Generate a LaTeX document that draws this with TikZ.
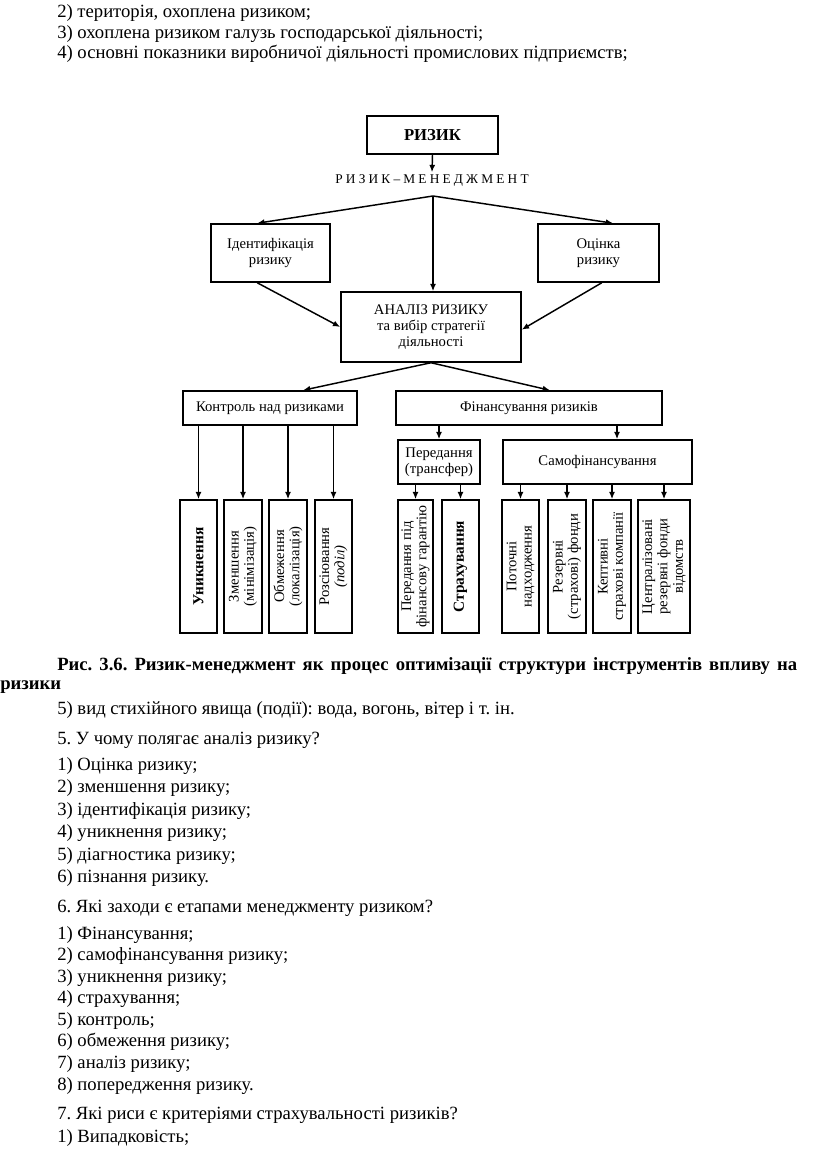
\documentclass[tikz,border=0pt]{standalone}
\usepackage{fontspec}
\setmainfont{Liberation Serif}
\usetikzlibrary{arrows.meta,calc}
\begin{document}
\frenchspacing
\begin{tikzpicture}[x=0.75pt,y=-0.75pt,
  every node/.style={inner sep=0pt},
  box/.style={draw, line width=1.1pt, align=center, font=\fontsize{11}{12}\selectfont},
  leaf/.style={draw, line width=1.1pt, rotate=90, align=center, minimum width=99.75pt, font=\fontsize{11}{11.5}\selectfont},
  arr/.style={line width=1.1pt, -{Latex[length=5.5pt,width=4.5pt]}},
  ln/.style={anchor=base west, font=\fontsize{14}{16}\selectfont\frenchspacing},
  lnb/.style={anchor=base west, font=\fontsize{14}{16}\selectfont\bfseries\frenchspacing}]
\useasboundingbox (0,0) rectangle (816,1155);
\fill[white] (0,0) rectangle (816,1155);

% body text top
\node[ln] (t1) at (57,18) {2) територія, охоплена ризиком;};
\node[ln] (t2) at (57,38.5) {3) охоплена ризиком галузь господарської діяльності;};
\node[ln] (t3) at (57,58.5) {4) основні показники виробничої діяльності промислових підприємств;};

% diagram
\node[box, minimum width=98.25pt, minimum height=28.5pt, font=\fontsize{12.5}{14}\selectfont\bfseries] (riz) at (432.5,135) {РИЗИК};
\node[font=\fontsize{10}{11}\selectfont, inner sep=2pt] (rm) at (432,181) {\makebox[145pt]{Р\hfill И\hfill З\hfill И\hfill К\hfill –\hfill М\hfill Е\hfill Н\hfill Е\hfill Д\hfill Ж\hfill М\hfill Е\hfill Н\hfill Т}};
\coordinate (fork) at (433,196);
\node[box, minimum width=89.25pt, minimum height=43.5pt] (ident) at (270.5,253) {Ідентифікація\\ризику};
\node[box, minimum width=90.75pt, minimum height=43.5pt] (ocin) at (598.5,253) {Оцінка\\ризику};
\node[box, minimum width=135pt, minimum height=52.5pt] (anal) at (431,327) {АНАЛІЗ РИЗИКУ\\та вибір стратегії\\діяльності};
\node[box, minimum width=130.5pt, minimum height=25.5pt] (kontr) at (270,408) {Контроль над ризиками};
\node[box, minimum width=199.5pt, minimum height=25.5pt] (fin) at (529,408) {Фінансування ризиків};
\node[box, minimum width=61.5pt, minimum height=33pt] (pered) at (439,462) {Передання\\(трансфер)};
\node[box, minimum width=141.75pt, minimum height=33pt] (samo) at (597.5,462) {Самофінансування};

\node[leaf, minimum height=27.75pt, font=\fontsize{11.5}{12}\selectfont\bfseries] (l1) at (198.5,566.5) {Уникнення};
\node[leaf, minimum height=28.5pt] (l2) at (243,566.5) {Зменшення\\(мінімізація)};
\node[leaf, minimum height=28.5pt] (l3) at (288,566.5) {Обмеження\\(локалізація)};
\node[leaf, minimum height=27.75pt] (l4) at (333.5,566.5) {Розсіювання\\\textit{(поділ)}};
\node[leaf, minimum height=26.25pt] (l5) at (415.5,566.5) {Передання під\\фінансову гарантію};
\node[leaf, minimum height=27.75pt, font=\fontsize{11.5}{12}\selectfont\bfseries] (l6) at (460.5,566.5) {Страхування};
\node[leaf, minimum height=27.75pt] (l7) at (520.5,566.5) {Поточні\\надходження};
\node[leaf, minimum height=28.5pt] (l8) at (567,566.5) {Резервні\\(страхові) фонди};
\node[leaf, minimum height=28.5pt] (l9) at (612,566.5) {Кептивні\\страхові компанії};
\node[leaf, minimum height=39pt] (l10) at (664,566.5) {Централізовані\\резервні фонди\\відомств};

% connectors
\draw[arr] (riz.south) -- (rm.north);
\draw[arr] (fork) -- ([xshift=-10pt]ident.north);
\draw[arr] (fork) -- ([xshift=11pt]ocin.north);
\draw[arr] (fork) -- (fork |- anal.north);
\draw[arr] ([xshift=-10pt]ident.south) -- (anal.west);
\draw[arr] ([xshift=2.5pt]ocin.south) -- ([yshift=-2pt]anal.east);
\draw[arr] (anal.south) -- ([xshift=24.75pt]kontr.north);
\draw[arr] (anal.south) -- ([xshift=15.75pt]fin.north);
\draw[arr] (fin.south -| pered.north) -- (pered.north);
\coordinate (fs) at (617,425.5);
\draw[arr] (fs) -- (fs |- samo.north);
\foreach \l in {l1,l2,l3,l4} \draw[arr] (kontr.south -| \l.east) -- (\l.east);
\foreach \l in {l5,l6} \draw[arr] (pered.south -| \l.east) -- (\l.east);
\foreach \l in {l7,l8,l9,l10} \draw[arr] (samo.south -| \l.east) -- (\l.east);

% caption and text below
\node[lnb] (c1) at (57,670) {\makebox[555pt][s]{Рис. 3.6. Ризик-менеджмент як процес оптимізації структури інструментів впливу на}};
\node[lnb] (c2) at (0,689) {ризики};
\node[ln] (b1) at (57,714) {5) вид стихійного явища (події): вода, вогонь, вітер і т. ін.};
\node[ln] (q5) at (57,744) {5. У чому полягає аналіз ризику?};
\node[ln] (a51) at (57,770) {1) Оцінка ризику;};
\node[ln] (a52) at (57,792.5) {2) зменшення ризику;};
\node[ln] (a53) at (57,815) {3) ідентифікація ризику;};
\node[ln] (a54) at (57,837.5) {4) уникнення ризику;};
\node[ln] (a55) at (57,860) {5) діагностика ризику;};
\node[ln] (a56) at (57,882.5) {6) пізнання ризику.};
\node[ln] (q6) at (57,912) {6. Які заходи є етапами менеджменту ризиком?};
\node[ln] (a61) at (57,939) {1) Фінансування;};
\node[ln] (a62) at (57,960.5) {2) самофінансування ризику;};
\node[ln] (a63) at (57,982) {3) уникнення ризику;};
\node[ln] (a64) at (57,1003.5) {4) страхування;};
\node[ln] (a65) at (57,1025) {5) контроль;};
\node[ln] (a66) at (57,1046.5) {6) обмеження ризику;};
\node[ln] (a67) at (57,1068) {7) аналіз ризику;};
\node[ln] (a68) at (57,1090) {8) попередження ризику.};
\node[ln] (q7) at (57,1119) {7. Які риси є критеріями страхувальності ризиків?};
\node[ln] (a71) at (57,1142) {1) Випадковість;};
\end{tikzpicture}
\end{document}
